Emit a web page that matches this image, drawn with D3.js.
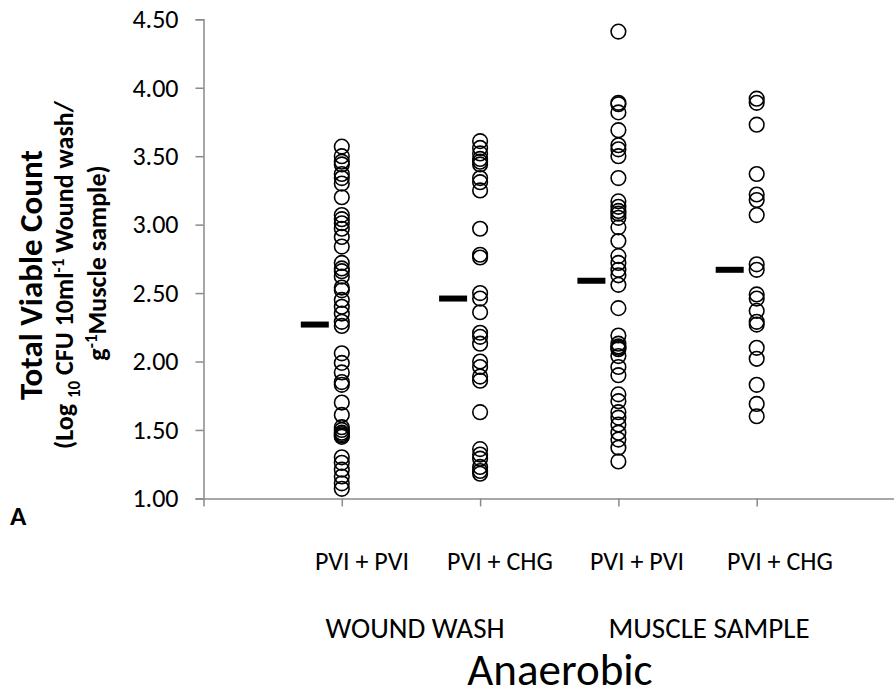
<!DOCTYPE html>
<html><head><meta charset="utf-8">
<script src="https://cdn.jsdelivr.net/npm/d3@7"></script>
<style>
body{margin:0;background:#fff;}
svg text{font-family:Carlito,Lato,"Noto Sans",sans-serif;fill:#000;}
</style></head>
<body><svg id="chart" width="894" height="697"></svg>
<script>
// ---- data ----
const categories = ["PVI + PVI","PVI + CHG","PVI + PVI","PVI + CHG"];
const groups = ["WOUND WASH","MUSCLE SAMPLE"];
const yTicks = [1.0,1.5,2.0,2.5,3.0,3.5,4.0,4.5];
const washPVI = [3.57,3.50,3.46,3.44,3.37,3.34,3.30,3.20,3.07,3.04,3.01,2.97,2.91,2.84,2.72,2.68,2.66,2.62,2.54,2.52,2.45,2.40,2.35,2.29,2.26,2.06,1.99,1.92,1.85,1.83,1.70,1.61,1.52,1.50,1.48,1.47,1.46,1.45,1.30,1.26,1.21,1.16,1.11,1.07];
const washCHG = [3.61,3.56,3.52,3.48,3.46,3.44,3.34,3.31,3.25,2.97,2.78,2.76,2.50,2.46,2.36,2.21,2.18,2.13,2.00,1.96,1.89,1.86,1.63,1.36,1.32,1.29,1.23,1.20,1.18];
const musclePVI = [4.41,3.89,3.88,3.82,3.69,3.58,3.55,3.50,3.34,3.17,3.13,3.10,3.08,3.05,2.98,2.88,2.77,2.72,2.67,2.63,2.56,2.39,2.19,2.13,2.11,2.10,2.09,2.04,1.96,1.90,1.76,1.71,1.63,1.59,1.54,1.48,1.43,1.37,1.27];
const muscleCHG = [3.92,3.89,3.73,3.37,3.22,3.18,3.07,2.71,2.67,2.49,2.46,2.37,2.29,2.27,2.10,2.02,1.83,1.69,1.60];
const means = [2.27,2.46,2.59,2.67];
const seriesList = [washPVI, washCHG, musclePVI, muscleCHG];

const svg = d3.select("#chart");
const x = d3.scaleLinear().domain([0,5]).range([203.5,895]);
const y = d3.scaleLinear().domain([1,4.5]).range([498.4,19.3]);
const axisColor = "#8a8a8a";

// y axis
const ya = svg.append("g").attr("transform","translate("+x(0)+",0)")
  .call(d3.axisLeft(y).tickValues(yTicks).tickSize(8).tickPadding(17).tickFormat(d3.format(".2f")));
ya.select(".domain").attr("stroke",axisColor).attr("stroke-width",1.5);
ya.selectAll(".tick line").attr("stroke",axisColor).attr("stroke-width",1.5);
ya.selectAll(".tick text").style("font-size","26px").attr("fill","#000");

// x axis
const xa = svg.append("g").attr("transform","translate(0,"+y(1)+")")
  .call(d3.axisBottom(x).tickValues([0,1,2,3,4,5]).tickSize(8).tickSizeOuter(0).tickFormat(""));
xa.select(".domain").attr("stroke",axisColor).attr("stroke-width",1.5);
xa.selectAll(".tick line").attr("stroke",axisColor).attr("stroke-width",1.5);

// points
seriesList.forEach((s,i)=>{
  svg.append("g").selectAll("circle").data(s).join("circle")
    .attr("cx",x(i+1)).attr("cy",d=>y(d)).attr("r",7.3)
    .attr("fill","none").attr("stroke","#000").attr("stroke-width",1.6);
});
// mean bars
svg.append("g").selectAll("rect").data(means).join("rect")
  .attr("x",(d,i)=>x(i+1)-41).attr("width",28)
  .attr("y",d=>y(d)-3).attr("height",6).attr("fill","#000");

// category labels
const labelCx = [362,500,637,780];
svg.append("g").selectAll("text").data(categories).join("text")
  .attr("x",(d,i)=>labelCx[i]).attr("y",570).attr("text-anchor","middle")
  .style("font-size","26px").text(d=>d);
const groupCx = [415,709];
svg.append("g").selectAll("text").data(groups).join("text")
  .attr("x",(d,i)=>groupCx[i]).attr("y",638).attr("text-anchor","middle")
  .style("font-size","29px").text(d=>d);
svg.append("text").attr("x",560).attr("y",685).attr("text-anchor","middle")
  .style("font-size","45px").text("Anaerobic");

// y title
const t1 = svg.append("text").attr("transform","translate(42,275) rotate(-90)")
  .attr("text-anchor","middle").style("font-size","33px").style("font-weight","bold")
  .text("Total Viable Count");
const t2 = svg.append("text").attr("transform","translate(73,275) rotate(-90)")
  .attr("text-anchor","middle").style("font-size","26px").style("font-weight","bold");
t2.append("tspan").text("(Log ");
t2.append("tspan").attr("dy",7).style("font-size","17px").text("10");
t2.append("tspan").attr("dy",-7).text(" CFU 10ml");
t2.append("tspan").attr("dy",-9).style("font-size","17px").text("-1");
t2.append("tspan").attr("dy",9).text(" Wound wash/");
const t3 = svg.append("text").attr("transform","translate(106,263) rotate(-90)")
  .attr("text-anchor","middle").style("font-size","26px").style("font-weight","bold");
t3.append("tspan").text("g");
t3.append("tspan").attr("dy",-9).style("font-size","17px").text("-1");
t3.append("tspan").attr("dy",9).text("Muscle sample)");

svg.append("text").attr("x",10).attr("y",525).style("font-size","27px").style("font-weight","bold").text("A");
</script></body></html>
